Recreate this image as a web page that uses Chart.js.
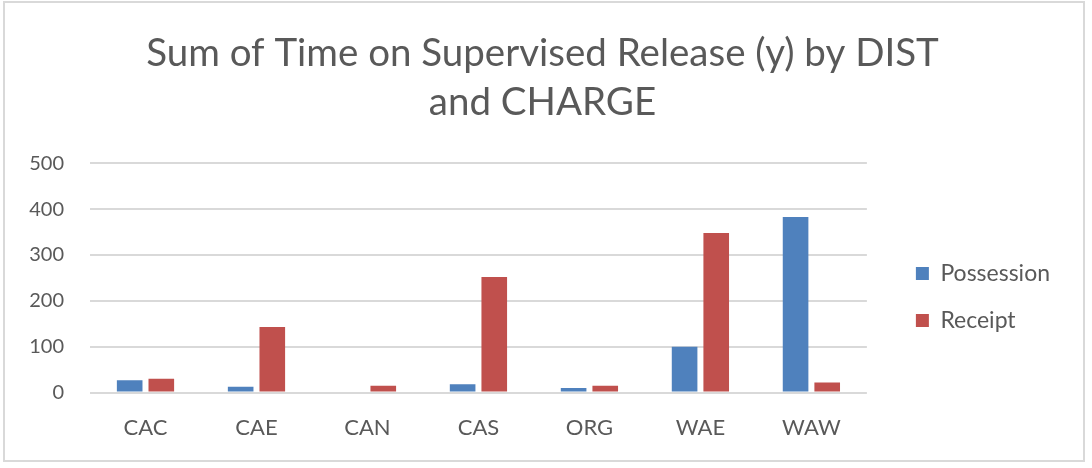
<!DOCTYPE html>
<html>
<head>
<meta charset="utf-8">
<script src="https://cdn.jsdelivr.net/npm/chart.js@4"></script>
<style>
  html, body { margin: 0; padding: 0; background: #fff; }
  #wrap { width: 1092px; height: 468px; position: relative; }
</style>
</head>
<body>
<div id="wrap"><canvas id="c" width="1092" height="468"></canvas></div>
<script>
const categories = ['CAC', 'CAE', 'CAN', 'CAS', 'ORG', 'WAE', 'WAW'];
const possession = [27, 13, 0, 18, 10, 100, 383];
const receipt = [30, 143, 15, 252, 15, 348, 22];
const seriesNames = ['Possession', 'Receipt'];
const titleLines = ['Sum of Time on Supervised Release (y) by DIST', 'and CHARGE'];

const FONT = 'Lato, "Open Sans", sans-serif';
const TEXT = '#595959';

const borderPlugin = {
  id: 'outerBorder',
  beforeDraw(chart) {
    const ctx = chart.ctx;
    ctx.save();
    ctx.fillStyle = '#ffffff';
    ctx.fillRect(0, 0, chart.width, chart.height);
    ctx.strokeStyle = '#d9d9d9';
    ctx.lineWidth = 2;
    ctx.strokeRect(4, 2, 1080, 459);
    ctx.restore();
  }
};

new Chart(document.getElementById('c'), {
  type: 'bar',
  data: {
    labels: categories,
    datasets: [
      { label: seriesNames[0], data: possession, backgroundColor: '#4F81BD', borderWidth: 0 },
      { label: seriesNames[1], data: receipt, backgroundColor: '#C0504D', borderWidth: 0 }
    ]
  },
  options: {
    responsive: false,
    animation: false,
    devicePixelRatio: 1,
    categoryPercentage: 0.57,
    barPercentage: 0.81,
    layout: { padding: { left: 25, right: 32, top: 0, bottom: 5 } },
    plugins: {
      title: {
        display: true,
        text: titleLines,
        color: TEXT,
        font: { family: FONT, size: 38.5, weight: 'normal', lineHeight: 1.25 },
        padding: { top: 30, bottom: 37 }
      },
      legend: {
        position: 'right',
        align: 'start',
        title: { display: true, text: '', font: { size: 1, lineHeight: 1 }, padding: { top: 237, bottom: 0 } },
        labels: {
          color: TEXT,
          font: { family: FONT, size: 23 },
          boxWidth: 13,
          boxHeight: 13,
          padding: 24
        }
      },
      tooltip: { enabled: false }
    },
    scales: {
      x: {
        grid: { display: false, drawTicks: false },
        border: { display: false },
        ticks: { color: TEXT, font: { family: FONT, size: 22 }, padding: 22 }
      },
      y: {
        min: 0,
        max: 500,
        ticks: { stepSize: 100, color: TEXT, font: { family: FONT, size: 20 }, padding: 26 },
        grid: { color: '#d9d9d9', lineWidth: 2, drawTicks: false },
        border: { display: false },
        afterFit(scale) { scale.width = 65; }
      },
      yR: {
        position: 'right',
        display: true,
        ticks: { display: false },
        grid: { display: false, drawTicks: false },
        border: { display: false },
        afterFit(scale) { scale.width = 25; }
      }
    }
  },
  plugins: [borderPlugin]
});
</script>
</body>
</html>
